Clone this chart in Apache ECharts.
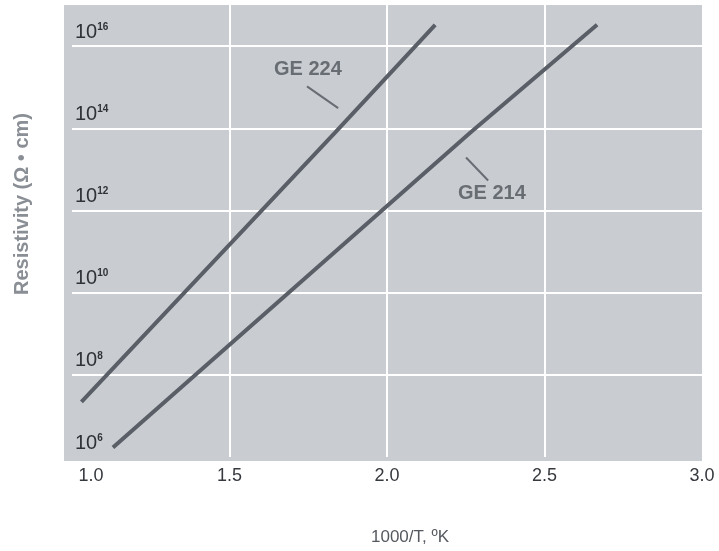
<!DOCTYPE html>
<html>
<head>
<meta charset="utf-8">
<script src="https://cdn.jsdelivr.net/npm/echarts@6/dist/echarts.min.js"></script>
<style>
html,body{margin:0;padding:0;background:#fff;}
#chart{width:719px;height:551px;}
</style>
</head>
<body>
<div id="chart"></div>
<script>
// ---- data ----
// x: 1000/T (1/K), resistivity in ohm*cm
const seriesNames = ['GE 224', 'GE 214'];
const ge224X = [1.03, 1.835, 2.153];
const ge224Rho = [2.2e7, 7.8e13, 3.3e16];
const ge214X = [1.13, 2.264, 2.667];
const ge214Rho = [1.7e6, 7.8e13, 3.3e16];
const xTickLabels = ['1.0', '1.5', '2.0', '2.5', '3.0'];
const yTickExponents = [6, 8, 10, 12, 14, 16];
// annotation anchors [x, log10(rho)]
const ge224LabelPos = [1.749, 15.43];
const ge224Leader = [[1.746, 15.02], [1.845, 14.49]];
const ge214LabelPos = [2.333, 12.42];
const ge214Leader = [[2.251, 13.29], [2.321, 12.73]];

const toPts = (xs, rs) => xs.map((x, i) => [x, Math.log10(rs[i])]);

const FONT = "'Liberation Sans', Arial, Helvetica, sans-serif";
const lineColor = '#5a5f67';
const annoColor = '#686d74';

const chart = echarts.init(document.getElementById('chart'), null, {renderer: 'canvas'});

function annotation(pos, leader, text) {
  return {
    markPoint: {
      symbol: 'rect', symbolSize: [1, 1], silent: true,
      itemStyle: {color: 'rgba(0,0,0,0)'},
      label: {show: true, position: 'inside', formatter: text, color: annoColor,
              fontSize: 20, fontWeight: 'bold', fontFamily: FONT},
      data: [{coord: pos}]
    },
    markLine: {
      symbol: ['none', 'none'], silent: true, animation: false,
      lineStyle: {color: annoColor, width: 2, type: 'solid'},
      label: {show: false},
      data: [[{coord: leader[0]}, {coord: leader[1]}]]
    }
  };
}

chart.setOption({
  animation: false,
  backgroundColor: '#ffffff',
  grid: [
    {left: 72, right: 17, top: 5, bottom: 90, show: false},
    // background panel (slightly wider than the data grid, as in the reference)
    {left: 64, right: 17, top: 5, bottom: 90, show: true, backgroundColor: '#c9ccd1', borderWidth: 0, z: -1}
  ],
  xAxis: [{
    gridIndex: 0, type: 'value', min: 1.0, max: 3.0, interval: 0.5,
    name: '1000/T, ºK', nameLocation: 'middle', nameGap: 72,
    nameTextStyle: {fontSize: 17, color: '#55595f', fontFamily: FONT, padding: [0, 0, 0, 46]},
    axisLine: {show: false}, axisTick: {show: false},
    splitLine: {show: true, showMinLine: false, showMaxLine: false, lineStyle: {color: '#ffffff', width: 2}},
    axisLabel: {
      margin: 10, fontSize: 18, color: '#35383d', fontFamily: FONT,
      formatter: function (v) {
        const idx = Math.round((v - 1) / 0.5);
        const t = xTickLabels[idx] !== undefined ? xTickLabels[idx] : v.toFixed(1);
        return idx === 0 ? '{f|' + t + '}' : t;
      },
      rich: {f: {fontSize: 18, color: '#35383d', fontFamily: FONT, padding: [0, 0, 0, 38]}}
    }
  }, {
    gridIndex: 1, type: 'value', min: 0, max: 1, show: false, splitLine: {show: false}
  }],
  yAxis: [{
    gridIndex: 0, type: 'value', min: 6, max: 17, interval: 2,
    name: 'Resistivity (Ω • cm)', nameLocation: 'middle', nameGap: 40,
    nameTextStyle: {fontSize: 20, color: '#8a8e95', fontFamily: FONT, fontWeight: 'bold', padding: [0, 0, 0, 54]},
    axisLine: {show: false}, axisTick: {show: false},
    splitLine: {show: true, showMinLine: false, showMaxLine: false, lineStyle: {color: '#ffffff', width: 2}},
    axisLabel: {
      inside: true, showMaxLabel: false, margin: 3, align: 'left', verticalAlign: 'bottom',
      padding: [0, 0, 4, 0],
      formatter: function (v) {
        const e = yTickExponents.indexOf(Math.round(v)) >= 0 ? Math.round(v) : null;
        return e === null ? '' : '{b|10}{s|' + e + '}';
      },
      rich: {
        b: {fontSize: 20, color: '#2f3236', fontFamily: FONT, lineHeight: 20, verticalAlign: 'bottom'},
        s: {fontSize: 10, color: '#2f3236', fontFamily: FONT, fontWeight: 'bold', lineHeight: 20, verticalAlign: 'top'}
      }
    }
  }, {
    gridIndex: 1, type: 'value', min: 0, max: 1, show: false, splitLine: {show: false}
  }],
  series: [
    Object.assign({
      name: seriesNames[0], type: 'line', data: toPts(ge224X, ge224Rho),
      showSymbol: false, symbol: 'none', lineStyle: {color: lineColor, width: 4}, z: 3
    }, annotation(ge224LabelPos, ge224Leader, seriesNames[0])),
    Object.assign({
      name: seriesNames[1], type: 'line', data: toPts(ge214X, ge214Rho),
      showSymbol: false, symbol: 'none', lineStyle: {color: lineColor, width: 4}, z: 3
    }, annotation(ge214LabelPos, ge214Leader, seriesNames[1]))
  ]
});
</script>
</body>
</html>
